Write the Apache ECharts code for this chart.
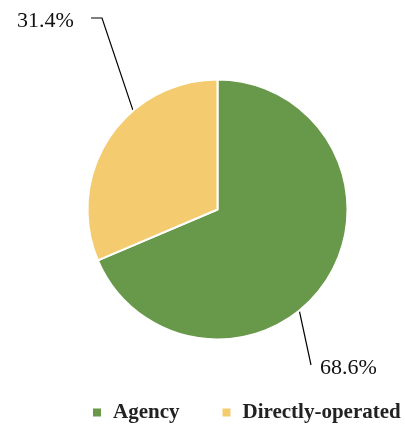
<!DOCTYPE html>
<html>
<head>
<meta charset="utf-8">
<script src="https://cdn.jsdelivr.net/npm/echarts@6/dist/echarts.min.js"></script>
<style>
  html, body { margin: 0; padding: 0; background: #fff; }
  #chart { width: 405px; height: 424px; }
</style>
</head>
<body>
<div id="chart"></div>
<script>
// Share of outlets by operating model
const categories = ['Agency', 'Directly-operated'];
const shares = [68.6, 31.4];
const colors = ['#68984a', '#f4cc6f'];

const CX = 217.5, CY = 209.5, R = 130;
const serif = '"Liberation Serif", "Times New Roman", serif';

// point on the pie rim at a given angle (degrees, measured counter-clockwise from 3 o'clock)
function rim(deg) {
  const a = deg * Math.PI / 180;
  return [CX + R * Math.cos(a), CY - R * Math.sin(a)];
}

const chart = echarts.init(document.getElementById('chart'));
chart.setOption({
  animation: false,
  color: colors,
  legend: {
    data: categories,
    left: 91,
    top: 402,
    width: 330,
    icon: 'rect',
    itemWidth: 10,
    itemHeight: 10,
    itemGap: 41,
    padding: 0,
    textStyle: {
      fontFamily: serif,
      fontWeight: 'bold',
      fontSize: 21,
      color: '#222',
      padding: [0, 0, 0, 6]
    }
  },
  series: [{
    type: 'pie',
    center: [CX, CY],
    radius: R,
    startAngle: 90,
    clockwise: true,
    itemStyle: { borderColor: '#fff', borderWidth: 2 },
    label: {
      show: true,
      formatter: p => p.value.toFixed(1) + '%',
      fontFamily: serif,
      fontSize: 22,
      color: '#111',
      overflow: 'none',
      width: 100
    },
    labelLine: {
      show: true,
      lineStyle: { color: '#000', width: 1.2 }
    },
    labelLayout: function (params) {
      if (params.dataIndex === 0) {
        const s = rim(-51);
        return {
          x: 320, y: 368, align: 'left', verticalAlign: 'middle',
          labelLinePoints: [s, [311, 365], [311, 365]]
        };
      }
      const s = rim(130.5);
      return {
        x: 17, y: 21, align: 'left', verticalAlign: 'middle',
        labelLinePoints: [s, [102, 18], [91, 18]]
      };
    },
    data: categories.map((name, i) => ({ name, value: shares[i] }))
  }]
});
</script>
</body>
</html>
